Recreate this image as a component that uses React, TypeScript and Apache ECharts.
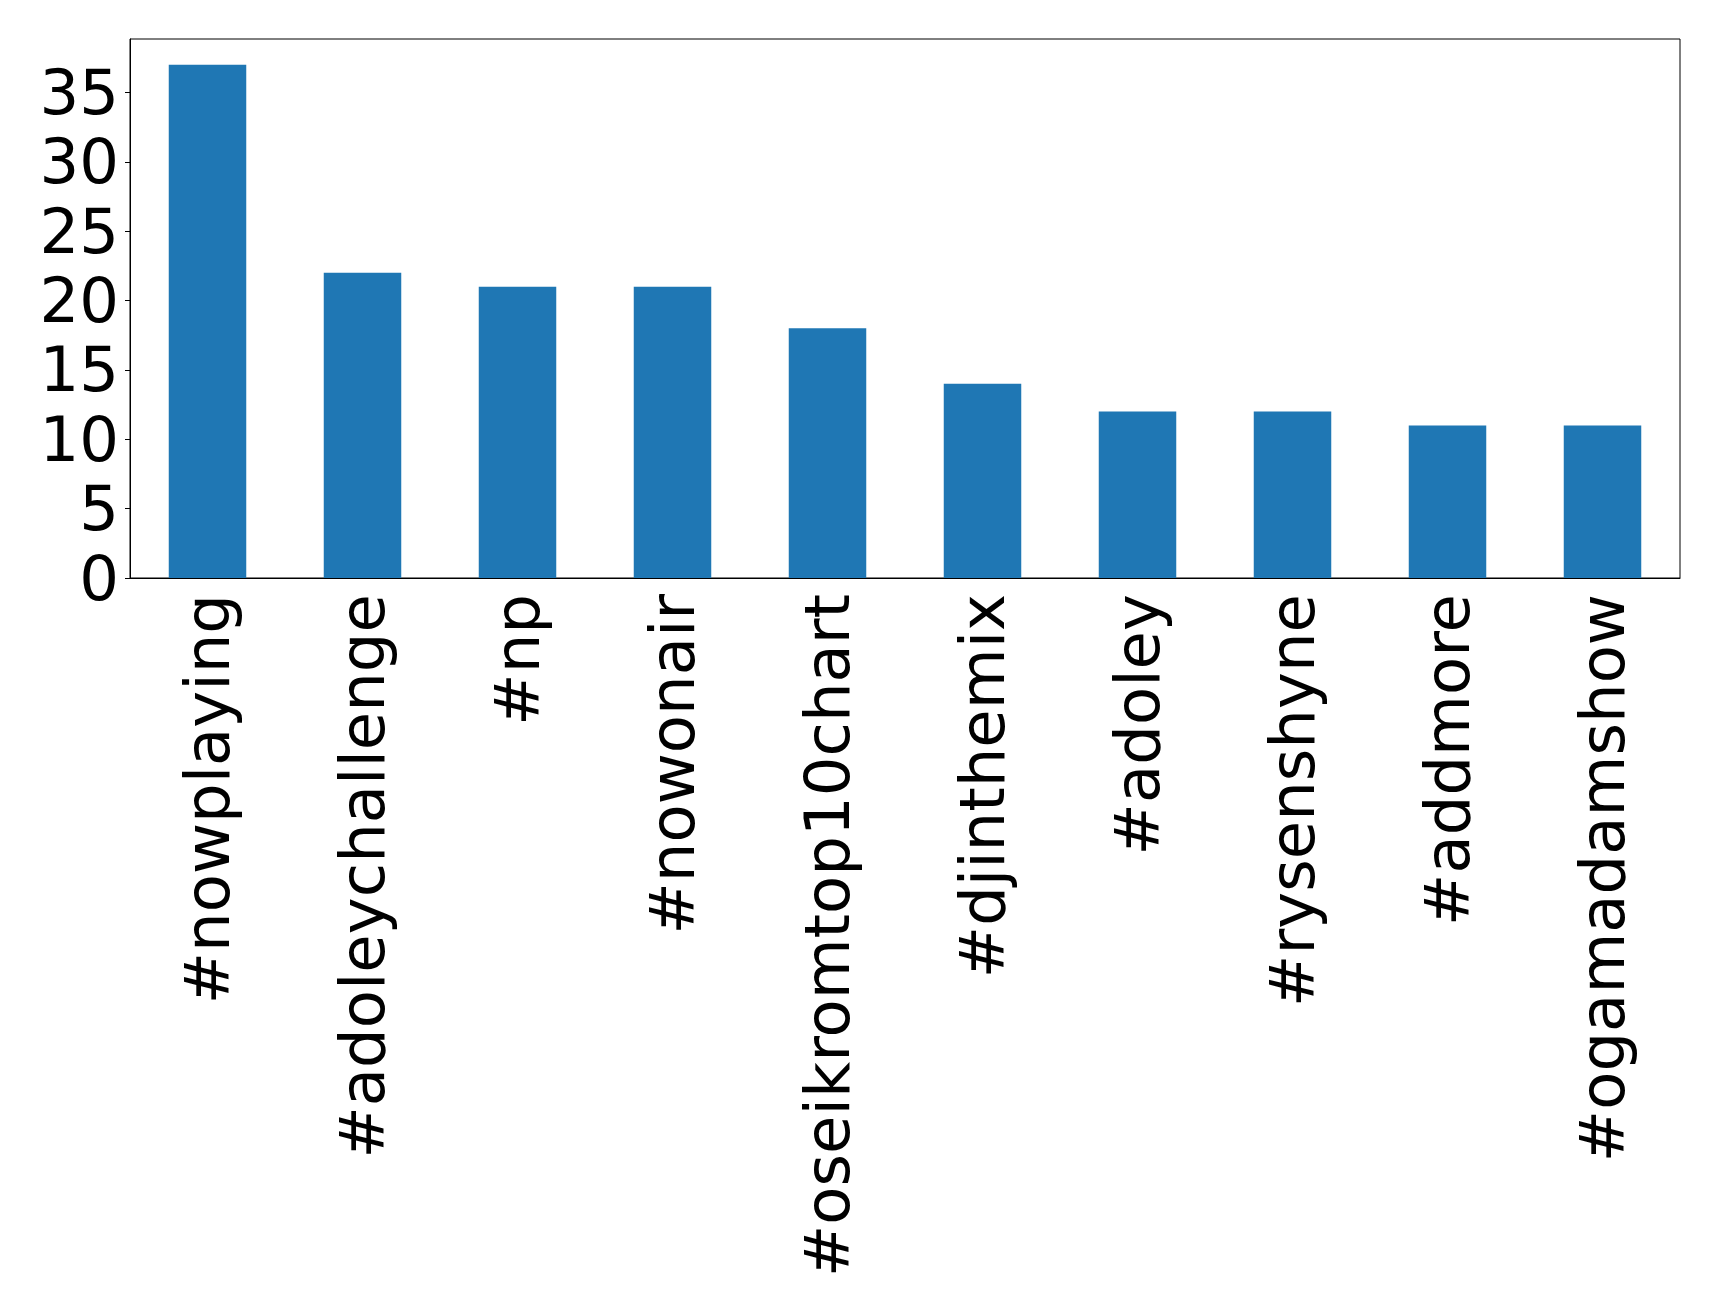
import React, { useEffect, useRef } from "react";
import * as echarts from "echarts";

const categories = [
  "#nowplaying",
  "#adoleychallenge",
  "#np",
  "#nowonair",
  "#oseikromtop10chart",
  "#djinthemix",
  "#adoley",
  "#rysenshyne",
  "#addmore",
  "#ogamadamshow",
];
const counts = [37, 22, 21, 21, 18, 14, 12, 12, 11, 11];
const yTicks = [0, 5, 10, 15, 20, 25, 30, 35];

export default function App() {
  const ref = useRef<HTMLDivElement>(null);
  useEffect(() => {
    if (!ref.current) return;
    const chart = echarts.init(ref.current, null, { renderer: "svg" });
    const font = "DejaVu Sans";
    chart.setOption({
      animation: false,
      backgroundColor: "#ffffff",
      grid: {
        left: 130,
        top: 39,
        width: 1550,
        height: 539,
        show: true,
        borderColor: "#000000",
        borderWidth: 1,
        backgroundColor: "transparent",
      },
      xAxis: {
        type: "category",
        data: categories,
        axisLine: { lineStyle: { color: "#000", width: 1 } },
        axisTick: { alignWithLabel: true, length: 5, lineStyle: { color: "#000" } },
        axisLabel: {
          rotate: 90,
          interval: 0,
          fontSize: 62.5,
          fontFamily: font,
          color: "#000",
          margin: 16,
        },
        splitLine: { show: false },
      },
      yAxis: {
        type: "value",
        min: 0,
        max: 38.85,
        interval: 5,
        axisLine: { show: true, lineStyle: { color: "#000", width: 1 } },
        axisTick: { show: true, length: 5, lineStyle: { color: "#000" }, customValues: yTicks },
        axisLabel: {
          fontSize: 62.5,
          fontFamily: font,
          color: "#000",
          margin: 11,
          customValues: yTicks,
        },
        splitLine: { show: false },
      },
      series: [
        {
          type: "bar",
          data: counts,
          barWidth: "50%",
          itemStyle: { color: "#1f77b4" },
        },
      ],
    });
    return () => chart.dispose();
  }, []);
  return (
    <div
      ref={ref}
      style={{ position: "absolute", left: 0, top: 0, width: 1719, height: 1311 }}
    />
  );
}
